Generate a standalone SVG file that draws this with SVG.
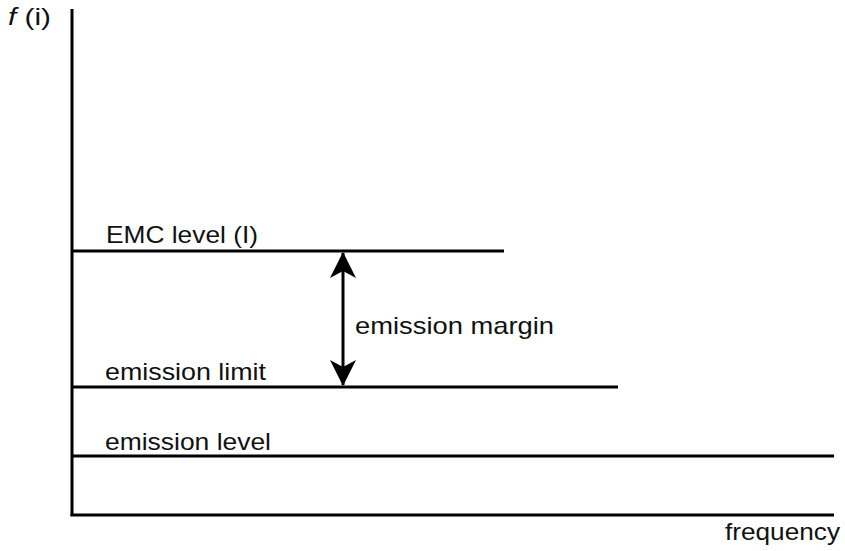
<svg xmlns="http://www.w3.org/2000/svg" width="845" height="551" viewBox="0 0 845 551">
  <style>
    .ln { stroke: #000; stroke-width: 3; fill: none; }
    .lbl { font-family: "Liberation Sans", Arial, sans-serif; font-size: 24px; fill: #111; }
  </style>
  <defs>
    <marker id="head" viewBox="0 0 26 26" refX="25" refY="13" markerWidth="26" markerHeight="26" markerUnits="userSpaceOnUse" orient="auto-start-reverse">
      <path d="M0,0 L26,13 L0,26 L7,13 Z" fill="#000"/>
    </marker>
  </defs>
  <rect width="845" height="551" fill="#fff"/>

  <!-- axes -->
  <g id="axes">
    <line class="ln" x1="72" y1="9" x2="72" y2="516"/>
    <line class="ln" x1="70.5" y1="515" x2="834" y2="515"/>
    <text class="lbl" x="8" y="25" font-size="25" textLength="43" lengthAdjust="spacingAndGlyphs"><tspan font-style="italic">f</tspan> (i)</text>
    <text class="lbl" x="725" y="540" textLength="115" lengthAdjust="spacingAndGlyphs">frequency</text>
  </g>

  <!-- level lines -->
  <g id="emc-level">
    <line class="ln" x1="72" y1="251" x2="504" y2="251"/>
    <text class="lbl" x="106" y="243" textLength="152" lengthAdjust="spacingAndGlyphs">EMC level (I)</text>
  </g>
  <g id="emission-limit">
    <line class="ln" x1="72" y1="387" x2="618" y2="387"/>
    <text class="lbl" x="105" y="380" textLength="161" lengthAdjust="spacingAndGlyphs">emission limit</text>
  </g>
  <g id="emission-level">
    <line class="ln" x1="72" y1="456" x2="834" y2="456"/>
    <text class="lbl" x="105" y="450" textLength="166" lengthAdjust="spacingAndGlyphs">emission level</text>
  </g>

  <!-- margin between EMC level and emission limit -->
  <g id="connectors">
    <line class="ln" x1="343" y1="253" x2="343" y2="385" marker-start="url(#head)" marker-end="url(#head)"/>
  </g>
  <g id="emission-margin">
    <text class="lbl" x="355" y="334" textLength="199" lengthAdjust="spacingAndGlyphs">emission margin</text>
  </g>
</svg>
